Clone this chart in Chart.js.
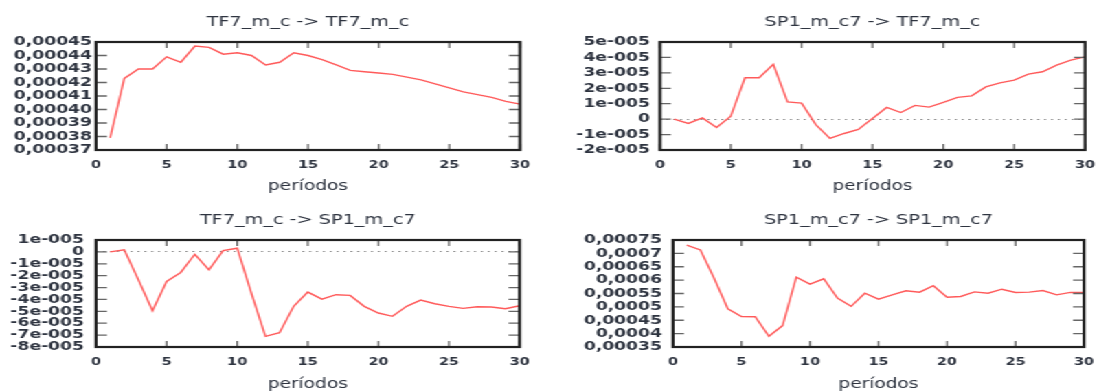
<!DOCTYPE html>
<html>
<head>
<meta charset="utf-8">
<script src="https://cdn.jsdelivr.net/npm/chart.js"></script>
<style>
  html, body { margin: 0; padding: 0; background: #fff; overflow: hidden; }
  #stage {
    position: relative;
    width: 800px;
    height: 392px;
    transform: scaleX(1.37375);
    transform-origin: 0 0;
  }
  #stage canvas { position: absolute; }
</style>
</head>
<body>
<div id="stage">
  <canvas id="c-tl" width="400" height="196" style="left:0;top:0"></canvas>
  <canvas id="c-tr" width="400" height="196" style="left:400px;top:0"></canvas>
  <canvas id="c-bl" width="400" height="196" style="left:0;top:196px"></canvas>
  <canvas id="c-br" width="400" height="196" style="left:400px;top:196px"></canvas>
</div>
<script>
// horizon (periods)
const periods = [1, 2, 3, 4, 5, 6, 7, 8, 9, 10, 11, 12, 13, 14, 15, 16, 17, 18, 19, 20,
  21, 22, 23, 24, 25, 26, 27, 28, 29, 30];

// impulse responses
const tf7ToTf7 = [0.000379, 0.000423, 0.000430, 0.000430, 0.000439, 0.000435, 0.000447, 0.000446,
  0.000441, 0.000442, 0.000440, 0.000433, 0.000435, 0.000442, 0.000440, 0.000437, 0.000433,
  0.000429, 0.000428, 0.000427, 0.000426, 0.000424, 0.000422, 0.000419, 0.000416, 0.000413,
  0.000411, 0.000409, 0.000406, 0.000404];
const sp1ToTf7 = [0.0, -2.8e-6, 0.8e-6, -5.4e-6, 1.9e-6, 2.68e-5, 2.68e-5, 3.56e-5, 1.12e-5,
  1.04e-5, -3.5e-6, -1.25e-5, -9.3e-6, -6.7e-6, 0.4e-6, 7.6e-6, 4.3e-6, 8.9e-6, 7.8e-6,
  1.08e-5, 1.41e-5, 1.51e-5, 2.09e-5, 2.35e-5, 2.53e-5, 2.92e-5, 3.07e-5, 3.5e-5, 3.82e-5, 4.04e-5];
const tf7ToSp1 = [0.0, 1.7e-6, -2.35e-5, -4.95e-5, -2.49e-5, -1.73e-5, -2.0e-6, -1.51e-5, 1.1e-6,
  3.1e-6, -3.46e-5, -7.1e-5, -6.8e-5, -4.58e-5, -3.38e-5, -3.97e-5, -3.6e-5, -3.66e-5,
  -4.58e-5, -5.14e-5, -5.42e-5, -4.58e-5, -4.05e-5, -4.36e-5, -4.58e-5, -4.75e-5, -4.61e-5,
  -4.64e-5, -4.78e-5, -4.53e-5];
const sp1ToSp1 = [0.000731, 0.000713, 0.000607, 0.000493, 0.000464, 0.000463, 0.000390, 0.000430,
  0.000611, 0.000585, 0.000605, 0.000533, 0.000502, 0.000551, 0.000529, 0.000545, 0.000560,
  0.000555, 0.000579, 0.000536, 0.000539, 0.000556, 0.000551, 0.000566, 0.000554, 0.000555,
  0.000561, 0.000545, 0.000554, 0.000554];

// y tick values and their printed labels
const ticksTf7Tf7 = [0.00037, 0.00038, 0.00039, 0.00040, 0.00041, 0.00042, 0.00043, 0.00044, 0.00045];
const labelsTf7Tf7 = ['0,00037', '0,00038', '0,00039', '0,00040', '0,00041', '0,00042', '0,00043', '0,00044', '0,00045'];
const ticksSp1Tf7 = [-2e-5, -1e-5, 0, 1e-5, 2e-5, 3e-5, 4e-5, 5e-5];
const labelsSp1Tf7 = ['-2e-005', '-1e-005', '0', '1e-005', '2e-005', '3e-005', '4e-005', '5e-005'];
const ticksTf7Sp1 = [-8e-5, -7e-5, -6e-5, -5e-5, -4e-5, -3e-5, -2e-5, -1e-5, 0, 1e-5];
const labelsTf7Sp1 = ['-8e-005', '-7e-005', '-6e-005', '-5e-005', '-4e-005', '-3e-005', '-2e-005', '-1e-005', '0', '1e-005'];
const ticksSp1Sp1 = [0.00035, 0.0004, 0.00045, 0.0005, 0.00055, 0.0006, 0.00065, 0.0007, 0.00075];
const labelsSp1Sp1 = ['0,00035', '0,0004', '0,00045', '0,0005', '0,00055', '0,0006', '0,00065', '0,0007', '0,00075'];

const xLabel = 'períodos';
const FONT = "'DejaVu Sans', Verdana, sans-serif";
const TEXT = '#2e3440';
const FRAME = '#222';
const TICK = '#666';

// gnuplot-style box: closed frame with ticks pointing inwards on all four sides
const framePlugin = {
  id: 'frame',
  afterDraw(chart) {
    const { ctx, chartArea: a, scales } = chart;
    ctx.save();
    ctx.strokeStyle = TICK;
    ctx.lineWidth = 1.3;
    ctx.beginPath();
    scales.x.ticks.forEach(t => {
      const px = scales.x.getPixelForValue(t.value);
      ctx.moveTo(px, a.bottom); ctx.lineTo(px, a.bottom - 6);
      ctx.moveTo(px, a.top); ctx.lineTo(px, a.top + 6);
    });
    scales.y.ticks.forEach(t => {
      const py = scales.y.getPixelForValue(t.value);
      ctx.moveTo(a.left, py); ctx.lineTo(a.left + 8, py);
      ctx.moveTo(a.right, py); ctx.lineTo(a.right - 8, py);
    });
    ctx.stroke();
    ctx.strokeStyle = FRAME;
    ctx.lineWidth = 2.2;
    ctx.strokeRect(a.left, a.top, a.right - a.left, a.bottom - a.top);
    ctx.restore();
  }
};

function makePanel(id, p) {
  const noPad = (scale) => {
    scale.paddingLeft = 0; scale.paddingRight = 0;
    scale.paddingTop = 0; scale.paddingBottom = 0;
  };

  return new Chart(document.getElementById(id), {
    type: 'line',
    data: {
      datasets: [{
        data: periods.map((t, i) => ({ x: t, y: p.values[i] })),
        borderColor: '#ff5a5a',
        borderWidth: 1.4,
        pointRadius: 0,
        tension: 0,
        fill: false
      }]
    },
    options: {
      responsive: false,
      animation: false,
      layout: { padding: { left: 0, right: p.padRight, top: 0, bottom: 0 } },
      plugins: {
        legend: { display: false },
        tooltip: { enabled: false },
        title: {
          display: true,
          text: p.title,
          fullSize: false,
          color: TEXT,
          font: { family: FONT, size: 14, weight: 'normal', lineHeight: 1.2 },
          padding: { top: p.titleTop, bottom: p.chartTop - p.titleTop - 16.8 }
        }
      },
      scales: {
        x: {
          type: 'linear',
          position: 'bottom',
          min: 0,
          max: 30,
          ticks: { stepSize: 5, color: TEXT, padding: 8.9, maxRotation: 0,
            font: { family: FONT, size: 10.5, weight: 'bold' } },
          grid: { drawOnChartArea: false, drawTicks: false },
          border: { display: false },
          title: { display: true, text: xLabel, color: TEXT,
            font: { family: FONT, size: 13.5, lineHeight: 1 },
            padding: { top: 0, bottom: p.xTitleBottom } },
          afterFit: (scale) => { scale.height = p.xHeight; noPad(scale); }
        },
        y: {
          type: 'linear',
          position: 'left',
          min: p.ticks[0],
          max: p.ticks[p.ticks.length - 1],
          afterBuildTicks: (scale) => { scale.ticks = p.ticks.map(v => ({ value: v })); },
          ticks: {
            color: TEXT,
            padding: p.labelPad,
            autoSkip: false,
            font: { family: FONT, size: 12.5, weight: 'bold' },
            callback: (value, index) => p.labels[index]
          },
          grid: {
            drawOnChartArea: true,
            drawTicks: false,
            lineWidth: 1,
            // dotted zero reference line only
            color: (ctx) => (p.zeroLine && ctx.tick && ctx.tick.value === 0) ? '#8a8a8a' : 'rgba(0,0,0,0)'
          },
          border: { display: false, dash: [1.5, 3.5] },
          afterFit: (scale) => { scale.width = p.chartLeft; noPad(scale); }
        }
      }
    },
    plugins: [framePlugin]
  });
}

makePanel('c-tl', {
  title: 'TF7_m_c -> TF7_m_c', values: tf7ToTf7, ticks: ticksTf7Tf7, labels: labelsTf7Tf7,
  zeroLine: false, chartLeft: 69.9, padRight: 21.5, chartTop: 42, titleTop: 13.6,
  xHeight: 46, xTitleBottom: 2.75, labelPad: 2.9
});
makePanel('c-tr', {
  title: 'SP1_m_c7 -> TF7_m_c', values: sp1ToTf7, ticks: ticksSp1Tf7, labels: labelsSp1Tf7,
  zeroLine: true, chartLeft: 80.4, padRight: 10.2, chartTop: 42, titleTop: 13.6,
  xHeight: 46, xTitleBottom: 2.75, labelPad: 7.3
});
makePanel('c-bl', {
  title: 'TF7_m_c -> SP1_m_c7', values: tf7ToSp1, ticks: ticksTf7Sp1, labels: labelsTf7Sp1,
  zeroLine: true, chartLeft: 69.9, padRight: 21.8, chartTop: 44, titleTop: 15.6,
  xHeight: 45, xTitleBottom: 0.75, labelPad: 8.7
});
makePanel('c-br', {
  title: 'SP1_m_c7 -> SP1_m_c7', values: sp1ToSp1, ticks: ticksSp1Sp1, labels: labelsSp1Sp1,
  zeroLine: false, chartLeft: 89.9, padRight: 10.9, chartTop: 44, titleTop: 15.6,
  xHeight: 45, xTitleBottom: 0.75, labelPad: 8
});
</script>
</body>
</html>
